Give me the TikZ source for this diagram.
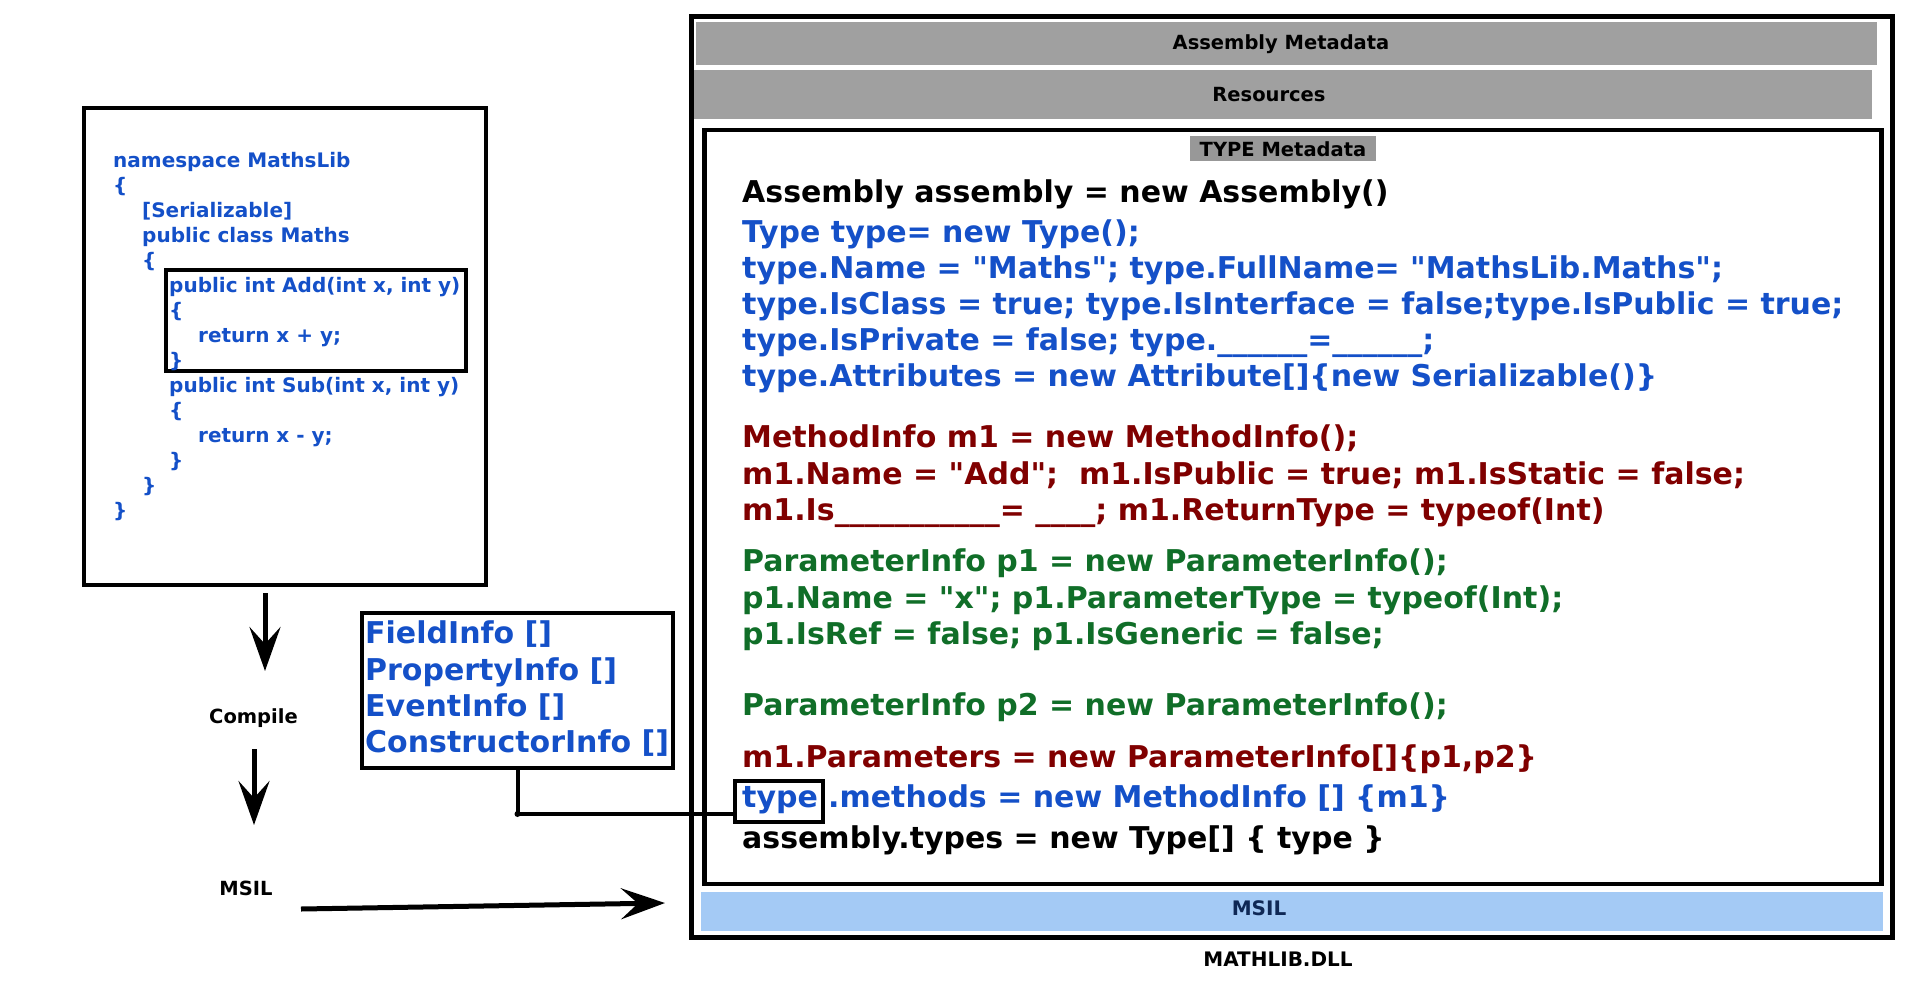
\documentclass[tikz,border=0pt]{standalone}
\usepackage{fontspec}
\setmainfont{DejaVu Sans}[Ligatures=TeXOff]
\usepackage{tikz}
\usetikzlibrary{arrows.meta,positioning}
\definecolor{codeblue}{RGB}{20,80,200}
\definecolor{codered}{RGB}{128,0,0}
\definecolor{codegreen}{RGB}{16,110,40}
\definecolor{bargray}{RGB}{160,160,160}
\definecolor{typegray}{RGB}{152,152,152}
\definecolor{msilblue}{RGB}{164,202,245}
\definecolor{msilnavy}{RGB}{15,40,85}

\begin{document}
\begin{tikzpicture}[x=1pt,y=-1pt,
  every node/.style={inner sep=0pt},
  src/.style={font=\fontsize{20}{24}\selectfont\bfseries, text=codeblue, anchor=base west},
  code/.style={font=\fontsize{30}{36}\selectfont\bfseries, anchor=base west},
  info/.style={font=\fontsize{30}{36}\selectfont\bfseries, text=codeblue, anchor=base west},
  lbl/.style={font=\fontsize{19.5}{24}\selectfont\bfseries, anchor=base},
  frame/.style={draw, line width=4.3pt},
  bar/.style={fill=bargray},
  flow/.style={line width=5pt, -{Stealth[length=44pt,width=31pt,inset=17pt]}},
  link/.style={line width=4pt},
]
\useasboundingbox (0,0) rectangle (1920,991);
% source code box
\node[frame, minimum width=402pt, minimum height=477pt] (srcbox) at (285,346.5) {};
\node[frame, line width=4pt, minimum width=300pt, minimum height=101pt] (addbox) at (316,320.5) {};
\node[src] (l1) at (113,167) {namespace MathsLib};
\node[src] (l2) at (113,192) {\{};
\node[src] (l3) at (142,217) {[Serializable]};
\node[src] (l4) at (142,242) {public class Maths};
\node[src] (l5) at (142,267) {\{};
\node[src] (l6) at (169,292) {public int Add(int x, int y)};
\node[src] (l7) at (169,317) {\{};
\node[src] (l8) at (198,342) {return x + y;};
\node[src] (l9) at (169,367) {\}};
\node[src] (l10) at (169,392) {public int Sub(int x, int y)};
\node[src] (l11) at (169,417) {\{};
\node[src] (l12) at (198,442) {return x - y;};
\node[src] (l13) at (169,467) {\}};
\node[src] (l14) at (142,492) {\}};
\node[src] (l15) at (113,517) {\}};
% compile steps
\node[lbl] (compile) at (253.5,723) {Compile};
\node[lbl] (msil) at (246,895) {MSIL};
\coordinate (a1) at (265,671);
\coordinate (a2s) at (254,749);
\coordinate (a2) at (254,825);
\coordinate (a3s) at (301,909);
\coordinate (a3) at (665,903);
\draw[flow, shorten <=6pt] (srcbox.south -| a1) -- (a1);
\draw[flow] (a2s) -- (a2);
\draw[flow] (a3s) -- (a3);
% other info arrays
\node[frame, line width=4pt, minimum width=311pt, minimum height=155pt] (info) at (517.5,690.5) {};
\node[info] (f1) at (365,643) {FieldInfo []};
\node[info] (f2) at (365,680) {PropertyInfo []};
\node[info] (f3) at (365,716) {EventInfo []};
\node[info] (f4) at (365,752) {ConstructorInfo []};
% the dll
\node[draw, line width=5pt, minimum width=1200.8pt, minimum height=921.5pt] (dll) at (1292.1,476.75) {};
\node[bar, minimum width=1181pt, minimum height=43pt] (asmbar) at (1286.5,43.5) {};
\node[bar, minimum width=1178pt, minimum height=49.3pt] (resbar) at (1283,94.7) {};
\node[draw, line width=4.7pt, minimum width=1177.2pt, minimum height=754pt] (typebox) at (1292.9,507) {};
\node[fill=typegray, minimum width=186pt, minimum height=25pt] (typebar) at (1283,148.5) {};
\node[fill=msilblue, minimum width=1182pt, minimum height=39pt] (msilbar) at (1292,911.5) {};
\node[lbl] (asmlbl) at (1281,49.3) {Assembly Metadata};
\node[lbl] (reslbl) at (1269,101.7) {Resources};
\node[lbl] (typelbl) at (1283,156.7) {TYPE Metadata};
\node[lbl, font=\fontsize{20}{24}\selectfont\bfseries, text=msilnavy] (msillbl) at (1259,915) {MSIL};
\node[lbl, font=\fontsize{20}{24}\selectfont\bfseries] (dlllbl) at (1278,966) {MATHLIB.DLL};
% type metadata code
\node[code] (c1) at (742,202) {Assembly assembly = new Assembly()};
\node[code, text=codeblue] (c2) at (742,242) {Type type= new Type();};
\node[code, text=codeblue] (c3) at (742,278) {type.Name = "Maths"; type.FullName= "MathsLib.Maths";};
\node[code, text=codeblue] (c4) at (742,314) {type.IsClass = true; type.IsInterface = false;type.IsPublic = true;};
\node[code, text=codeblue] (c5) at (742,350) {type.IsPrivate = false; type.\_\_\_\_\_\_=\_\_\_\_\_\_;};
\node[code, text=codeblue] (c6) at (742,386) {type.Attributes = new Attribute[]\{new Serializable()\}};
\node[code, text=codered] (c7) at (742,447) {MethodInfo m1 = new MethodInfo();};
\node[code, text=codered] (c8) at (742,484) {m1.Name = "Add";\ \ m1.IsPublic = true; m1.IsStatic = false;};
\node[code, text=codered] (c9) at (742,520) {m1.Is\_\_\_\_\_\_\_\_\_\_\_= \_\_\_\_; m1.ReturnType = typeof(Int)};
\node[code, text=codegreen] (c10) at (742,571) {ParameterInfo p1 = new ParameterInfo();};
\node[code, text=codegreen] (c11) at (742,608) {p1.Name = "x"; p1.ParameterType = typeof(Int);};
\node[code, text=codegreen] (c12) at (742,644) {p1.IsRef = false; p1.IsGeneric = false;};
\node[code, text=codegreen] (c13) at (742,715) {ParameterInfo p2 = new ParameterInfo();};
\node[code, text=codered] (c14) at (742,767) {m1.Parameters = new ParameterInfo[]\{p1,p2\}};
\node[code, text=codeblue] (ttype) at (742,807) {type};
\node[code, text=codeblue] (c15) at (828,807) {.methods = new MethodInfo [] \{m1\}};
\node[code] (c16) at (742,848) {assembly.types = new Type[] \{ type \}};
\node[draw, line width=4pt, minimum width=87.7pt, minimum height=41.3pt] (tbox) at (779.2,801.7) {};
% link from the info box to type
\coordinate (bend) at (517.5,814);
\draw[link] (info.south) -- (bend) -- (bend -| tbox.west);
\fill (bend) circle[radius=3pt];
\end{tikzpicture}
\end{document}
